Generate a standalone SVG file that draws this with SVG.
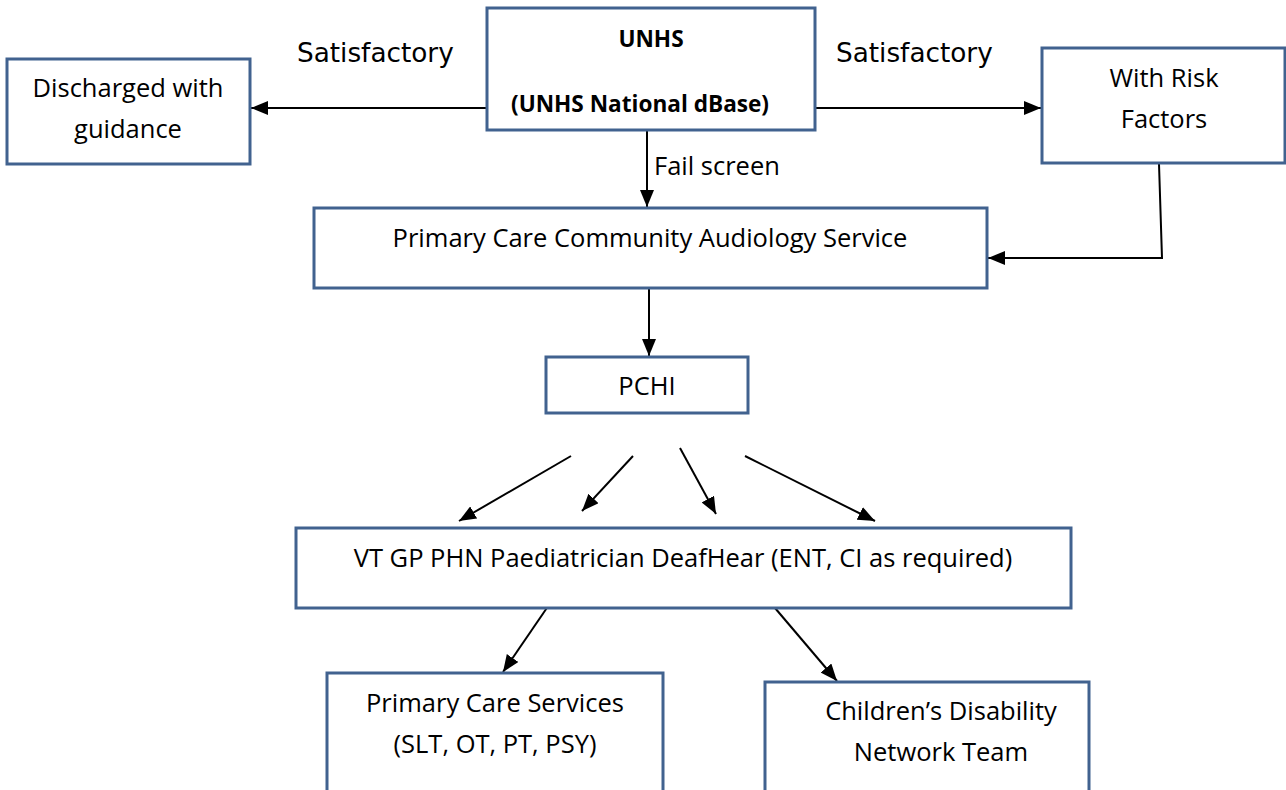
<svg xmlns="http://www.w3.org/2000/svg" width="1286" height="790" viewBox="0 0 1286 790">
<style>
.box{fill:#fff;stroke:#41628f;stroke-width:3}
.t{font-family:"Open Sans","Noto Sans",sans-serif;font-size:25.5px;fill:#000;text-anchor:middle}
.b{font-weight:bold;font-size:22.6px}
.s{font-family:"DejaVu Sans",Verdana,sans-serif;font-size:26.3px;fill:#000}
.c{fill:none;stroke:#000;stroke-width:2}
</style>
<defs>
<marker id="ah" viewBox="0 0 17 14" refX="17" refY="7" markerWidth="17" markerHeight="14" markerUnits="userSpaceOnUse" orient="auto">
<path d="M0,0 L17,7 L0,14 z" fill="#000"/>
</marker>
</defs>
<rect width="1286" height="790" fill="#fff"/>
<g id="connectors">
<line class="c" x1="487" y1="108" x2="251" y2="108" marker-end="url(#ah)"/>
<line class="c" x1="815" y1="108" x2="1041" y2="108" marker-end="url(#ah)"/>
<line class="c" x1="647" y1="131" x2="647" y2="207" marker-end="url(#ah)"/>
<polyline class="c" points="1159,164 1162,258 988,258" marker-end="url(#ah)"/>
<line class="c" x1="649" y1="289" x2="649" y2="356" marker-end="url(#ah)"/>
<line class="c" x1="571" y1="456" x2="459" y2="521" marker-end="url(#ah)"/>
<line class="c" x1="633" y1="456" x2="582" y2="511" marker-end="url(#ah)"/>
<line class="c" x1="680" y1="448" x2="716" y2="514" marker-end="url(#ah)"/>
<line class="c" x1="745" y1="456" x2="875" y2="521" marker-end="url(#ah)"/>
<line class="c" x1="553" y1="599" x2="503" y2="672" marker-end="url(#ah)"/>
<line class="c" x1="775" y1="608" x2="837" y2="681" marker-end="url(#ah)"/>
<text class="s" x="297" y="62">Satisfactory</text>
<text class="s" x="836" y="62">Satisfactory</text>
<text class="t" x="654" y="175" style="text-anchor:start">Fail screen</text>
</g>
<g id="unhs">
<rect class="box" x="487" y="8" width="328" height="122"/>
<text class="t b" x="651" y="47">UNHS</text>
<text class="t b" x="640" y="112">(UNHS National dBase)</text>
</g>
<g id="discharged">
<rect class="box" x="7" y="59" width="243" height="105"/>
<text class="t" x="128" y="97">Discharged with</text>
<text class="t" x="128" y="138">guidance</text>
</g>
<g id="risk">
<rect class="box" x="1042" y="48" width="243" height="115"/>
<text class="t" x="1164" y="87">With Risk</text>
<text class="t" x="1164" y="128">Factors</text>
</g>
<g id="pcas">
<rect class="box" x="314" y="208" width="673" height="80"/>
<text class="t" x="650" y="247">Primary Care Community Audiology Service</text>
</g>
<g id="pchi">
<rect class="box" x="546" y="357" width="202" height="56"/>
<text class="t" x="647" y="395">PCHI</text>
</g>
<g id="vt">
<rect class="box" x="296" y="528" width="775" height="80"/>
<text class="t" x="683" y="567">VT GP PHN Paediatrician DeafHear (ENT, CI as required)</text>
</g>
<g id="pcs">
<rect class="box" x="327" y="673" width="336" height="130"/>
<text class="t" x="495" y="712">Primary Care Services</text>
<text class="t" x="495" y="753">(SLT, OT, PT, PSY)</text>
</g>
<g id="cdnt">
<rect class="box" x="765" y="682" width="324" height="130"/>
<text class="t" x="941" y="720">Children’s Disability</text>
<text class="t" x="941" y="761">Network Team</text>
</g>
</svg>
